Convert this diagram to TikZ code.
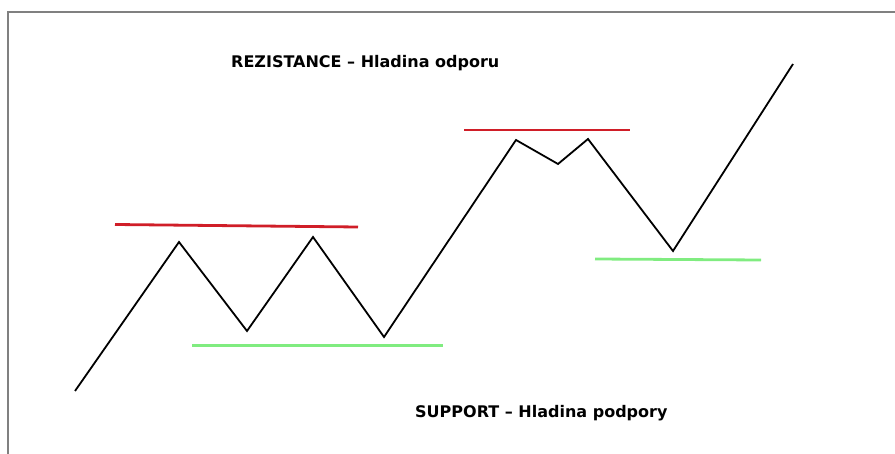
\documentclass[tikz,border=0pt]{standalone}
\usepackage{fontspec}
\setmainfont{DejaVu Sans}
\definecolor{resred}{HTML}{D01E28}
\definecolor{supgreen}{HTML}{80EC80}
\definecolor{framegray}{HTML}{808080}
\begin{document}
\begin{tikzpicture}[x=1pt,y=-1pt,
  price/.style={draw=black,line width=1.8pt,line join=miter},
  reslevel/.style={draw=resred,line width=2.8pt},
  suplevel/.style={draw=supgreen,line width=2.8pt},
  frameline/.style={draw=framegray,line width=1.4pt},
  label/.style={anchor=base west,inner sep=0pt,font=\fontsize{16}{19}\selectfont\bfseries}]
\useasboundingbox (0,0) rectangle (895,454);
% frame (top and left edges only)
\coordinate (fbl) at (8,454);
\coordinate (ftl) at (8,12);
\coordinate (ftr) at (895,12);
\draw[frameline] (fbl) -- (ftl) -- (ftr);
% price path
\coordinate (p0) at (75,391);
\coordinate (p1) at (179,242);
\coordinate (p2) at (247,331);
\coordinate (p3) at (313,237);
\coordinate (p4) at (384,337);
\coordinate (p5) at (516,140);
\coordinate (p6) at (558,164);
\coordinate (p7) at (588,139);
\coordinate (p8) at (673,251);
\coordinate (p9) at (793,64);
\draw[price] (p0) -- (p1) -- (p2) -- (p3) -- (p4) -- (p5) -- (p6) -- (p7) -- (p8) -- (p9);
% resistance levels
\coordinate (r1a) at (115,224.5);
\coordinate (r1b) at (358,227);
\coordinate (r2a) at (464,130);
\coordinate (r2b) at (630,130);
\draw[reslevel] (r1a) -- (r1b);
\draw[reslevel] (r2a) -- (r2b);
% support levels
\coordinate (s1a) at (192,345.5);
\coordinate (s1b) at (443,345.5);
\coordinate (s2a) at (595,259);
\coordinate (s2b) at (761,260);
\draw[suplevel] (s1a) -- (s1b);
\draw[suplevel] (s2a) -- (s2b);
% labels
\node[label] (restext) at (231,68) {REZISTANCE – Hladina odporu};
\node[label] (suptext) at (415,418) {SUPPORT – Hladina podpory};
\end{tikzpicture}
\end{document}
